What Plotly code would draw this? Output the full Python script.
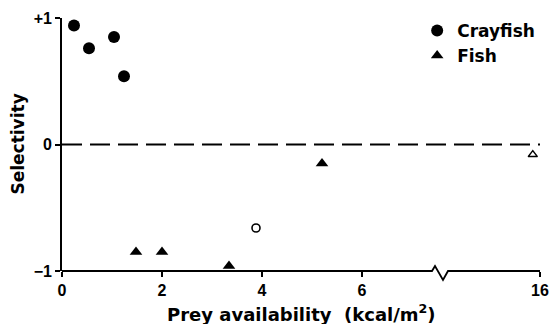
import plotly.graph_objects as go

# ---- data ----
crayfish_x = [0.24, 0.54, 1.04, 1.24]
crayfish_y = [0.94, 0.76, 0.85, 0.54]

fish_x = [1.48, 2.0, 3.34, 5.2]
fish_y = [-0.85, -0.85, -0.96, -0.15]

open_circle_x = [3.88]
open_circle_y = [-0.66]

open_triangle_x = [15.86]
open_triangle_y = [-0.08]

x_tick_values = [0, 2, 4, 6, 16]
x_tick_labels = ["0", "2", "4", "6", "16"]
y_tick_values = [-1, 0, 1]
y_tick_labels = ["\u22121", "0", "+1"]

# ---- broken x axis: lower segment 0..7.5 linear, upper segment from 14 upward ----
BREAK_POS = 7.5
UPPER_START = 14.0
UPPER_SCALE = 1.03


def xmap(v):
    if v <= BREAK_POS:
        return v
    return BREAK_POS + (v - UPPER_START) * UPPER_SCALE


def xmap_list(vals):
    return [xmap(v) for v in vals]


X_MAX = xmap(16)

FONT = "DejaVu Sans, Liberation Sans, Arial, sans-serif"
TICK_FONT = "Liberation Sans, Arial, sans-serif"

fig = go.Figure()
fig.add_trace(go.Scatter(
    x=xmap_list(crayfish_x), y=crayfish_y, mode="markers", name="Crayfish",
    marker=dict(symbol="circle", size=12, color="black"), cliponaxis=False))
fig.add_trace(go.Scatter(
    x=xmap_list(fish_x), y=fish_y, mode="markers", name="Fish",
    marker=dict(symbol="triangle-up", size=11, color="black"), cliponaxis=False))
fig.add_trace(go.Scatter(
    x=xmap_list(open_circle_x), y=open_circle_y, mode="markers", showlegend=False,
    marker=dict(symbol="circle-open", size=8, color="black", line=dict(width=1.6)),
    cliponaxis=False))
fig.add_trace(go.Scatter(
    x=xmap_list(open_triangle_x), y=open_triangle_y, mode="markers", showlegend=False,
    marker=dict(symbol="triangle-up-open", size=8, color="black", line=dict(width=1.5)),
    cliponaxis=False))

# dashed zero line
fig.add_shape(type="line", xref="x", yref="y", x0=0, x1=X_MAX, y0=0, y1=0,
              line=dict(color="black", width=1.8, dash="20px,8px"), layer="below")

# x axis line with break zig-zag
px_h = 253.0
path = (f"M 0,0 L 7.4,0 L 7.46,{5/px_h:.4f} L 7.62,{-9/px_h:.4f} "
        f"L 7.72,0 L {X_MAX:.4f},0")
fig.add_shape(type="path", xref="x", yref="paper", path=path,
              line=dict(color="black", width=1.8), layer="above")

fig.update_layout(
    width=549, height=324,
    margin=dict(l=62, r=9, t=18, b=53, autoexpand=False),
    paper_bgcolor="white", plot_bgcolor="white",
    font=dict(family=FONT, color="black"),
    showlegend=True,
    legend=dict(x=0.743, y=1.02, xanchor="left", yanchor="top",
                font=dict(size=17, family=FONT, weight="bold"),
                bgcolor="rgba(0,0,0,0)", tracegroupgap=0, itemwidth=30),
    xaxis=dict(range=[0, X_MAX], tickvals=xmap_list(x_tick_values), ticktext=x_tick_labels,
               showline=False, showgrid=False, zeroline=False,
               ticks="outside", ticklen=5, tickwidth=1.5, tickcolor="black",
               ticklabeloverflow="allow",
               tickfont=dict(size=16, family=TICK_FONT, weight="bold")),
    yaxis=dict(range=[-1, 1], tickvals=y_tick_values, ticktext=y_tick_labels,
               showline=True, linewidth=1.8, linecolor="black",
               showgrid=False, zeroline=False,
               ticks="outside", ticklen=5, tickwidth=1.5, tickcolor="black",
               tickfont=dict(size=16, family=TICK_FONT, weight="bold")),
    annotations=[
        dict(text="Prey availability&nbsp;&nbsp;(kcal/m<sup>2</sup>)", xref="paper", yref="paper",
             x=0.5, y=-0.166, xanchor="center", yanchor="middle", showarrow=False,
             font=dict(size=18, family=FONT, weight="bold")),
        dict(text="Selectivity", xref="paper", yref="paper",
             x=-0.094, y=0.5, xanchor="center", yanchor="middle", textangle=-90,
             showarrow=False, font=dict(size=17, family=FONT, weight="bold")),
    ],
)

fig.write_html("out.html", config={"displayModeBar": False},
               post_script="document.body.style.margin='0';document.body.style.padding='0';")
